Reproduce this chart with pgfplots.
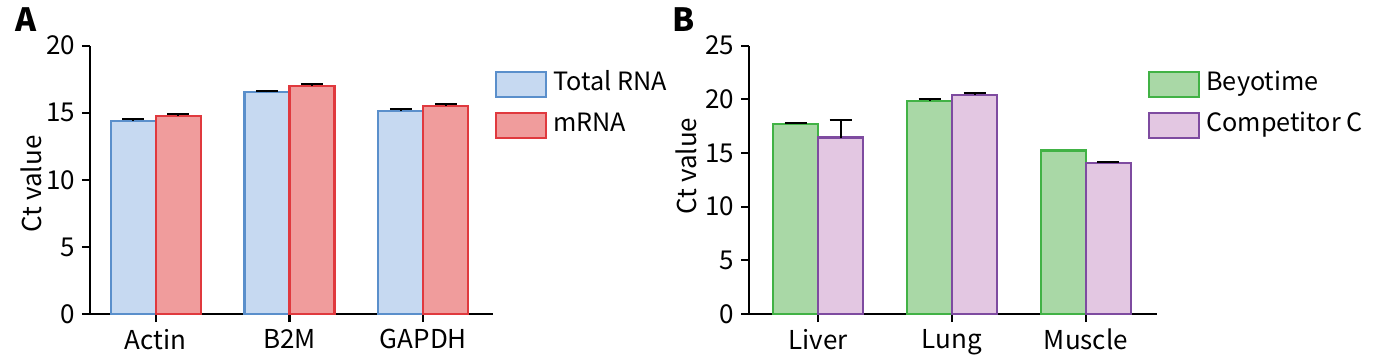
\documentclass[border=0pt]{standalone}
\usepackage{pgfplots}
\pgfplotsset{compat=1.18}
\usepackage{fontspec}
\setmainfont{Noto Sans CJK SC}
\definecolor{trFill}{HTML}{C6D9F1}
\definecolor{trLine}{HTML}{5A8FCB}
\definecolor{mrFill}{HTML}{F09C9C}
\definecolor{mrLine}{HTML}{E0393E}
\definecolor{byFill}{HTML}{A9D8A6}
\definecolor{byLine}{HTML}{41B245}
\definecolor{ccFill}{HTML}{E3C7E2}
\definecolor{ccLine}{HTML}{7E4BA0}
\begin{document}
\begin{tikzpicture}
\useasboundingbox (0,0) rectangle (689pt,180.5pt);
\pgfplotsset{
  myaxis/.style={
    scale only axis,
    height=134.2pt,
    ymin=0,
    axis x line=bottom, axis y line=left,
    axis line style={-, line width=1.1pt, black},
    tick style={line width=1.1pt, black},
    major tick length=4pt,
    tick align=outside,
    xtick={0,1,2},
    ybar=0pt, bar width=22.5pt,
    font=\fontsize{13}{15}\selectfont,
    tick label style={font=\fontsize{13}{15}\selectfont},
    /pgf/number format/assume math mode=true,
    legend cell align=left,
    legend image code/.code={\draw[##1, line width=1pt] (0pt,-6.25pt) rectangle (25pt,6.25pt);},
    legend style={draw=none, fill=none, inner sep=0pt, row sep=7pt,
      nodes={inner sep=0pt, text height=9pt, text depth=3pt},
      /tikz/every odd column/.append style={column sep=3pt},
      font=\fontsize{12.6}{15}\selectfont},
  },
  myerr/.style={error bars/.cd, y dir=plus, y explicit,
      error bar style={line width=1pt, black},
      error mark options={rotate=90, mark size=5.5pt, line width=1pt, black}},
}
% Panel A
\begin{axis}[myaxis,
  at={(45pt,23.5pt)}, anchor=south west,
  width=201.5pt, xmin=-0.49, xmax=2.52,
  ymax=20, ytick={0,5,10,15,20},
  xticklabels={Actin,B2M,GAPDH},
  ylabel={Ct value},
  ylabel style={at={(axis description cs:-0.146,0.485)}, anchor=center},
  legend style={at={(axis description cs:1.005,0.907)}, anchor=north west},
]
\addplot[fill=trFill, draw=trLine, line width=1.1pt, bar shift=-11.25pt, myerr] coordinates {(0,14.40) +- (0,0.10) (1,16.54) +- (0,0.10) (2,15.15) +- (0,0.10)};
\addplot[fill=mrFill, draw=mrLine, line width=1.1pt, bar shift=11.25pt, myerr] coordinates {(0,14.78) +- (0,0.15) (1,16.99) +- (0,0.15) (2,15.52) +- (0,0.15)};
\legend{Total RNA, mRNA}
\end{axis}
% Panel B
\begin{axis}[myaxis,
  at={(374.5pt,23.5pt)}, anchor=south west,
  width=204pt, xmin=-0.515, xmax=2.53,
  ymax=25, ytick={0,5,10,15,20,25},
  xticklabels={Liver,Lung,Muscle},
  ylabel={Ct value},
  ylabel style={at={(axis description cs:-0.154,0.551)}, anchor=center},
  legend style={at={(axis description cs:0.978,0.907)}, anchor=north west},
]
\addplot[fill=byFill, draw=byLine, line width=1.1pt, bar shift=-11.25pt] coordinates {(0,17.72) (1,19.86) (2,15.23)};
\addplot[fill=ccFill, draw=ccLine, line width=1.1pt, bar shift=11.25pt, myerr] coordinates {(0,16.44) +- (0,1.65) (1,20.42) +- (0,0.12) (2,14.09) +- (0,0.09)};
\addplot[draw=none, fill=none, bar shift=-11.25pt, forget plot, myerr] coordinates {(0,17.72) +- (0,0.08) (1,19.86) +- (0,0.19)};
\legend{Beyotime, Competitor C}
\end{axis}
\node[anchor=base west, inner sep=0pt, font=\fontsize{16}{18}\selectfont\bfseries] at (7.5pt,165pt) {A};
\node[anchor=base west, inner sep=0pt, font=\fontsize{16}{18}\selectfont\bfseries] at (336pt,165pt) {B};
\end{tikzpicture}
\end{document}
